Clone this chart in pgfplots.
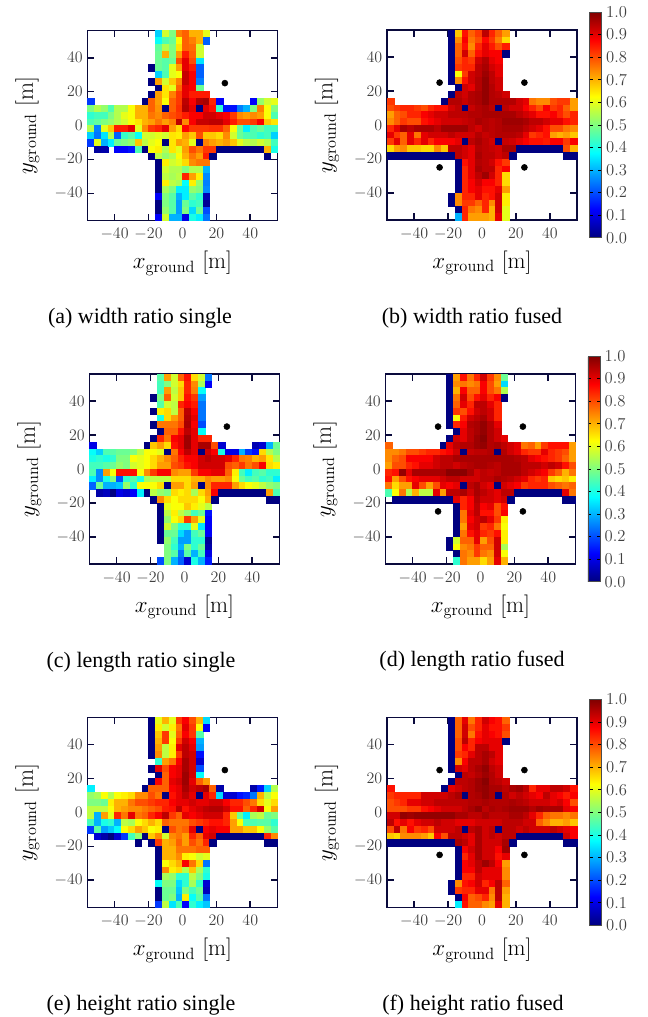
\documentclass[border=0pt]{standalone}
\usepackage{pgfplots}
\pgfplotsset{compat=1.18}
\usepackage{pgfplotstable}
\usepackage{fontspec}
\newfontfamily\capfont{Liberation Serif}
\definecolor{framec}{RGB}{10,10,60}
\pgfplotstableread[header=false]{
54 nan nan nan nan nan nan nan nan nan nan 33 58 50 75 78 70 70 60 nan nan nan nan nan nan nan nan nan nan
50 nan nan nan nan nan nan nan nan nan nan 38 45 48 62 78 75 70 22 nan nan nan nan nan nan nan nan nan nan
46 nan nan nan nan nan nan nan nan nan nan 47 55 50 65 78 77 58 nan nan nan nan nan nan nan nan nan nan nan
42 nan nan nan nan nan nan nan nan nan nan 48 70 50 72 85 78 58 nan nan nan nan nan nan nan nan nan nan nan
38 nan nan nan nan nan nan nan nan nan nan 48 46 48 80 90 80 35 nan nan nan nan nan nan nan nan nan nan nan
34 nan nan nan nan nan nan nan nan nan 0 48 46 60 72 90 85 22 nan nan nan nan nan nan nan nan nan nan nan
30 nan nan nan nan nan nan nan nan nan nan 33 45 60 62 93 88 22 nan nan nan nan nan nan nan nan nan nan nan
26 nan nan nan nan nan nan nan nan nan 0 72 58 68 75 93 88 25 nan nan nan nan nan nan nan nan nan nan nan
22 nan nan nan nan nan nan nan nan nan nan 0 65 60 78 90 88 48 nan nan nan nan nan nan nan nan nan nan nan
18 nan nan nan nan nan nan nan nan nan 0 72 65 75 82 90 85 85 85 nan nan nan nan nan nan nan nan nan nan
14 18 nan nan nan nan nan nan nan 0 78 72 62 78 82 94 88 95 96 84 12 nan nan nan nan 12 52 58 60
10 50 55 52 45 55 55 62 70 70 78 73 0 78 83 95 90 0 90 86 42 14 14 25 30 50 75 62 50
6 42 44 44 50 55 60 62 70 70 76 74 78 80 82 85 88 88 92 92 90 88 82 74 72 74 72 62 45
2 45 47 50 52 55 58 62 65 70 72 76 72 75 94 74 88 93 93 94 94 90 85 80 80 82 88 68 65
-2 55 25 60 68 85 85 90 60 74 82 84 90 72 66 87 82 82 82 83 83 78 62 48 36 45 48 44 44
-6 33 24 35 55 22 43 46 38 58 58 60 58 65 64 72 68 80 68 68 66 74 58 48 45 45 42 44 33
-10 18 60 30 36 48 50 52 68 56 60 62 0 65 72 70 60 0 75 72 70 72 68 60 56 55 58 55 44
-14 nan 3 4 nan 12 12 14 45 0 62 64 55 65 60 72 80 76 82 82 0 0 0 0 0 0 0 70 40
-18 nan nan nan nan nan nan nan nan nan 0 56 52 55 62 70 76 72 85 0 nan nan nan nan nan nan nan 0 nan
-22 nan nan nan nan nan nan nan nan nan nan 0 64 58 60 66 74 76 76 nan nan nan nan nan nan nan nan nan nan
-26 nan nan nan nan nan nan nan nan nan nan 0 58 55 55 50 55 55 30 nan nan nan nan nan nan nan nan nan nan
-30 nan nan nan nan nan nan nan nan nan nan 0 56 54 56 84 72 64 26 nan nan nan nan nan nan nan nan nan nan
-34 nan nan nan nan nan nan nan nan nan nan 0 64 56 54 38 64 52 25 nan nan nan nan nan nan nan nan nan nan
-38 nan nan nan nan nan nan nan nan nan nan 0 54 50 36 36 52 50 26 nan nan nan nan nan nan nan nan nan nan
-42 nan nan nan nan nan nan nan nan nan nan 12 50 46 30 36 46 42 5 nan nan nan nan nan nan nan nan nan nan
-46 nan nan nan nan nan nan nan nan nan nan 0 50 46 28 48 42 44 2 nan nan nan nan nan nan nan nan nan nan
-50 nan nan nan nan nan nan nan nan nan nan 0 52 46 28 50 34 48 20 nan nan nan nan nan nan nan nan nan nan
-54 nan nan nan nan nan nan nan nan nan nan 12 58 30 30 10 40 36 24 nan nan nan nan nan nan nan nan nan nan
}\tabA
\pgfplotstableread[header=false]{
54 nan nan nan nan nan nan nan nan nan 0 68 86 78 82 94 84 78 72 nan nan nan nan nan nan nan nan nan nan
50 nan nan nan nan nan nan nan nan nan 0 74 88 76 80 87 82 75 66 nan nan nan nan nan nan nan nan nan nan
46 nan nan nan nan nan nan nan nan nan 0 78 86 74 84 90 85 80 85 nan nan nan nan nan nan nan nan nan nan
42 nan nan nan nan nan nan nan nan nan 0 78 92 78 86 90 88 88 0 nan nan nan nan nan nan nan nan nan nan
38 nan nan nan nan nan nan nan nan nan 0 80 84 82 92 95 90 88 nan nan nan nan nan nan nan nan nan nan nan
34 nan nan nan nan nan nan nan nan nan 0 82 84 84 94 96 92 90 nan nan nan nan nan nan nan nan nan nan nan
30 nan nan nan nan nan nan nan nan nan 0 62 82 92 94 97 94 90 nan nan nan nan nan nan nan nan nan nan nan
26 nan nan nan nan nan nan nan nan nan 0 74 86 92 95 98 94 92 nan nan nan nan nan nan nan nan nan nan nan
22 nan nan nan nan nan nan nan nan nan nan 0 92 90 95 98 95 92 nan nan nan nan nan nan nan nan nan nan nan
18 nan nan nan nan nan nan nan nan nan 0 94 92 95 96 98 95 94 92 nan nan nan nan nan nan nan nan nan nan
14 82 nan nan nan nan nan nan nan 0 95 95 93 95 96 98 95 95 95 95 92 90 76 74 74 80 82 82 72
10 80 82 84 84 82 80 84 86 86 92 94 0 93 95 96 94 0 94 92 92 88 84 80 88 82 84 78 72
6 72 78 80 84 84 88 90 92 92 94 94 94 95 95 96 96 96 96 96 94 92 90 86 86 88 84 80 84
2 74 78 82 80 80 86 88 90 92 92 92 93 94 96 95 94 95 97 97 97 96 94 94 92 90 90 86 84
-2 84 90 96 94 96 96 96 94 97 97 97 97 94 92 95 94 95 96 96 96 94 92 90 86 80 80 76 74
-6 90 82 78 90 76 90 92 92 92 94 92 92 92 95 93 94 95 95 95 94 90 82 84 86 72 70 72 68
-10 82 90 78 90 84 90 84 88 88 88 90 0 94 96 94 92 0 93 92 90 88 86 86 85 88 88 82 88
-14 66 72 74 68 68 66 66 74 68 94 94 92 90 95 94 93 92 96 96 0 0 0 0 0 0 0 80 70
-18 0 0 0 0 0 0 0 0 0 0 94 92 90 96 94 94 92 94 0 nan nan nan nan nan nan nan 0 0
-22 nan nan nan nan nan nan nan nan nan nan 0 86 90 95 94 92 86 82 nan nan nan nan nan nan nan nan nan nan
-26 nan nan nan nan nan nan nan nan nan nan 0 84 90 96 94 94 84 88 nan nan nan nan nan nan nan nan nan nan
-30 nan nan nan nan nan nan nan nan nan nan 0 84 90 94 97 92 84 66 nan nan nan nan nan nan nan nan nan nan
-34 nan nan nan nan nan nan nan nan nan nan 0 84 88 92 88 88 84 66 nan nan nan nan nan nan nan nan nan nan
-38 nan nan nan nan nan nan nan nan nan nan 0 84 88 90 86 86 90 72 nan nan nan nan nan nan nan nan nan nan
-42 nan nan nan nan nan nan nan nan nan 0 74 84 84 90 84 86 92 64 nan nan nan nan nan nan nan nan nan nan
-46 nan nan nan nan nan nan nan nan nan 0 74 82 82 78 84 74 92 64 nan nan nan nan nan nan nan nan nan nan
-50 nan nan nan nan nan nan nan nan nan nan 0 84 76 74 84 70 92 60 nan nan nan nan nan nan nan nan nan nan
-54 nan nan nan nan nan nan nan nan nan nan 30 84 72 72 72 70 90 60 nan nan nan nan nan nan nan nan nan nan
}\tabB
\pgfplotstableread[header=false]{
54 nan nan nan nan nan nan nan nan nan nan 46 72 58 78 86 66 58 24 nan nan nan nan nan nan nan nan nan nan
50 nan nan nan nan nan nan nan nan nan nan 44 50 58 66 84 74 54 12 nan nan nan nan nan nan nan nan nan nan
46 nan nan nan nan nan nan nan nan nan nan 44 72 56 68 84 75 38 nan nan nan nan nan nan nan nan nan nan nan
42 nan nan nan nan nan nan nan nan nan 0 50 78 58 68 86 82 28 nan nan nan nan nan nan nan nan nan nan nan
38 nan nan nan nan nan nan nan nan nan nan 46 58 56 84 88 85 24 nan nan nan nan nan nan nan nan nan nan nan
34 nan nan nan nan nan nan nan nan nan 0 64 66 56 78 94 88 24 nan nan nan nan nan nan nan nan nan nan nan
30 nan nan nan nan nan nan nan nan nan nan 40 66 72 78 95 90 24 nan nan nan nan nan nan nan nan nan nan nan
26 nan nan nan nan nan nan nan nan nan 0 76 76 76 80 96 88 20 nan nan nan nan nan nan nan nan nan nan nan
22 nan nan nan nan nan nan nan nan nan nan 0 78 78 86 94 90 38 nan nan nan nan nan nan nan nan nan nan nan
18 nan nan nan nan nan nan nan nan nan 0 84 76 88 90 97 90 84 84 nan nan nan nan nan nan nan nan nan nan
14 10 nan nan nan nan nan nan nan 0 68 72 66 86 90 97 90 96 96 80 8 nan nan nan nan 5 8 30 48
10 38 33 45 46 48 48 50 56 62 62 60 0 76 88 94 90 0 92 88 40 10 10 30 18 14 66 55 50
6 40 42 40 42 50 50 62 60 62 66 70 74 78 84 88 88 92 94 92 92 90 84 76 75 70 72 65 55
2 44 44 46 48 52 50 58 60 62 66 72 72 80 82 86 88 92 92 92 92 80 78 82 76 80 88 66 64
-2 45 26 72 62 86 86 86 62 74 82 88 88 74 72 72 82 88 88 90 90 78 64 44 36 44 46 42 42
-6 36 26 40 50 20 42 46 40 54 56 56 56 66 66 66 70 70 74 72 72 74 62 48 44 46 42 44 36
-10 22 48 30 30 32 52 42 62 62 62 66 0 72 72 66 72 0 74 84 84 84 72 66 62 60 56 52 50
-14 nan 4 6 0 10 8 12 36 0 56 52 50 66 64 66 54 66 72 88 0 0 0 0 0 0 0 72 45
-18 nan nan nan nan nan nan nan nan nan 0 74 66 62 66 66 66 62 70 0 nan nan nan nan nan nan nan 0 0
-22 nan nan nan nan nan nan nan nan nan nan 0 60 62 62 68 64 60 56 nan nan nan nan nan nan nan nan nan nan
-26 nan nan nan nan nan nan nan nan nan nan 0 56 64 56 52 44 48 14 nan nan nan nan nan nan nan nan nan nan
-30 nan nan nan nan nan nan nan nan nan nan 0 52 62 66 82 72 60 12 nan nan nan nan nan nan nan nan nan nan
-34 nan nan nan nan nan nan nan nan nan nan 0 58 50 42 42 60 35 12 nan nan nan nan nan nan nan nan nan nan
-38 nan nan nan nan nan nan nan nan nan nan 0 48 48 34 28 44 48 12 nan nan nan nan nan nan nan nan nan nan
-42 nan nan nan nan nan nan nan nan nan nan 0 52 44 28 28 42 42 2 nan nan nan nan nan nan nan nan nan nan
-46 nan nan nan nan nan nan nan nan nan nan nan 50 42 30 50 42 48 4 nan nan nan nan nan nan nan nan nan nan
-50 nan nan nan nan nan nan nan nan nan nan nan 50 46 24 46 30 44 10 nan nan nan nan nan nan nan nan nan nan
-54 nan nan nan nan nan nan nan nan nan nan 20 50 30 22 8 40 30 15 nan nan nan nan nan nan nan nan nan nan
}\tabC
\pgfplotstableread[header=false]{
54 nan nan nan nan nan nan nan nan nan 0 72 86 76 84 92 82 74 48 nan nan nan nan nan nan nan nan nan nan
50 nan nan nan nan nan nan nan nan nan 0 74 76 74 76 88 80 72 34 nan nan nan nan nan nan nan nan nan nan
46 nan nan nan nan nan nan nan nan nan 0 70 88 78 78 88 80 76 55 nan nan nan nan nan nan nan nan nan nan
42 nan nan nan nan nan nan nan nan nan 0 76 92 80 86 90 84 88 0 nan nan nan nan nan nan nan nan nan nan
38 nan nan nan nan nan nan nan nan nan 0 78 90 84 94 94 90 84 nan nan nan nan nan nan nan nan nan nan nan
34 nan nan nan nan nan nan nan nan nan 0 82 80 86 92 94 92 84 nan nan nan nan nan nan nan nan nan nan nan
30 nan nan nan nan nan nan nan nan nan 0 62 85 92 94 96 92 84 nan nan nan nan nan nan nan nan nan nan nan
26 nan nan nan nan nan nan nan nan nan 0 84 88 95 96 98 95 90 nan nan nan nan nan nan nan nan nan nan nan
22 nan nan nan nan nan nan nan nan nan nan 0 90 94 96 98 95 92 nan nan nan nan nan nan nan nan nan nan nan
18 nan nan nan nan nan nan nan nan nan 0 92 90 94 97 99 95 92 90 nan nan nan nan nan nan nan nan nan nan
14 78 nan nan nan nan nan nan nan 0 90 94 95 95 97 98 95 96 94 92 90 76 78 72 82 86 86 86 72
10 74 74 76 80 80 82 84 84 86 88 92 0 93 94 94 95 0 95 92 90 84 82 82 90 84 82 80 72
6 74 78 80 88 88 88 88 92 94 94 96 96 96 96 96 96 96 96 96 95 94 90 88 86 84 82 78 72
2 72 80 80 84 86 90 90 92 94 94 92 94 95 96 96 95 94 96 96 96 94 94 94 92 94 92 86 80
-2 84 86 98 90 96 96 96 96 96 99 99 99 96 92 94 93 94 96 96 96 94 92 90 88 82 78 70 76
-6 86 72 80 86 88 90 90 90 92 94 94 92 92 92 94 94 96 95 94 92 90 84 82 84 68 66 68 64
-10 76 66 72 72 90 80 72 80 90 88 90 0 94 96 92 90 0 92 90 88 82 84 84 84 80 78 76 78
-14 45 62 76 55 70 56 56 90 72 94 94 96 92 96 94 92 90 94 94 0 0 0 0 0 0 0 90 76
-18 nan 0 0 0 0 0 0 0 0 0 90 84 88 95 92 92 90 92 0 nan nan nan nan nan nan nan 0 0
-22 nan nan nan nan nan nan nan nan nan nan 0 84 88 94 88 90 80 86 nan nan nan nan nan nan nan nan nan nan
-26 nan nan nan nan nan nan nan nan nan nan 0 76 90 94 86 86 80 88 nan nan nan nan nan nan nan nan nan nan
-30 nan nan nan nan nan nan nan nan nan nan 0 76 88 92 94 90 82 64 nan nan nan nan nan nan nan nan nan nan
-34 nan nan nan nan nan nan nan nan nan nan 0 72 90 92 82 84 76 62 nan nan nan nan nan nan nan nan nan nan
-38 nan nan nan nan nan nan nan nan nan nan 0 76 86 90 84 82 86 64 nan nan nan nan nan nan nan nan nan nan
-42 nan nan nan nan nan nan nan nan nan 0 58 78 78 90 72 80 92 64 nan nan nan nan nan nan nan nan nan nan
-46 nan nan nan nan nan nan nan nan nan 0 62 74 76 82 78 78 92 54 nan nan nan nan nan nan nan nan nan nan
-50 nan nan nan nan nan nan nan nan nan nan 0 76 74 82 76 74 92 62 nan nan nan nan nan nan nan nan nan nan
-54 nan nan nan nan nan nan nan nan nan nan 42 76 72 72 66 72 90 70 nan nan nan nan nan nan nan nan nan nan
}\tabD
\pgfplotstableread[header=false]{
54 nan nan nan nan nan nan nan nan nan 0 60 70 60 82 88 80 70 34 nan nan nan nan nan nan nan nan nan nan
50 nan nan nan nan nan nan nan nan nan 0 64 58 64 76 90 82 62 12 nan nan nan nan nan nan nan nan nan nan
46 nan nan nan nan nan nan nan nan nan 0 68 82 60 78 88 82 46 nan nan nan nan nan nan nan nan nan nan nan
42 nan nan nan nan nan nan nan nan nan 0 70 82 62 82 92 88 30 nan nan nan nan nan nan nan nan nan nan nan
38 nan nan nan nan nan nan nan nan nan 0 72 56 64 90 94 90 28 nan nan nan nan nan nan nan nan nan nan nan
34 nan nan nan nan nan nan nan nan nan 0 74 56 64 82 94 92 14 nan nan nan nan nan nan nan nan nan nan nan
30 nan nan nan nan nan nan nan nan nan nan 42 72 76 88 96 92 8 nan nan nan nan nan nan nan nan nan nan nan
26 nan nan nan nan nan nan nan nan nan 0 90 80 88 90 96 92 20 nan nan nan nan nan nan nan nan nan nan nan
22 nan nan nan nan nan nan nan nan nan nan 0 78 88 90 97 92 38 nan nan nan nan nan nan nan nan nan nan nan
18 nan nan nan nan nan nan nan nan nan 0 88 78 90 92 97 90 78 72 nan nan nan nan nan nan nan nan nan nan
14 36 nan nan nan nan nan nan nan 0 78 78 78 88 90 96 92 94 96 78 4 nan nan nan nan 4 15 33 55
10 52 54 62 55 62 64 66 74 74 80 76 0 86 90 94 90 0 90 84 34 8 8 14 16 24 70 56 62
6 50 50 48 64 70 70 76 80 80 82 84 84 88 90 90 92 90 90 92 92 88 84 84 80 76 66 60 66
2 56 56 56 62 70 72 74 74 76 78 80 85 86 94 86 90 92 94 95 95 92 86 86 78 84 92 62 72
-2 56 30 72 60 84 76 90 76 78 84 88 94 82 78 90 88 90 92 92 92 84 68 48 36 54 56 48 50
-6 44 30 40 42 30 56 54 62 66 70 66 78 76 76 76 80 82 84 86 86 84 72 62 45 45 46 46 42
-10 18 46 28 32 38 62 66 72 68 62 64 0 80 76 78 90 0 88 90 88 88 72 72 68 68 62 52 46
-14 nan 8 4 0 8 18 44 52 0 68 74 58 74 76 72 84 78 90 92 0 0 0 0 0 0 0 84 74
-18 nan nan nan nan nan nan nan 0 nan 0 82 70 72 78 72 80 76 84 0 nan nan nan nan nan nan nan 0 0
-22 nan nan nan nan nan nan nan nan nan nan 0 70 70 76 76 76 78 78 nan nan nan nan nan nan nan nan nan nan
-26 nan nan nan nan nan nan nan nan nan nan 0 70 70 74 64 62 58 60 nan nan nan nan nan nan nan nan nan nan
-30 nan nan nan nan nan nan nan nan nan nan 0 62 66 70 88 76 66 24 nan nan nan nan nan nan nan nan nan nan
-34 nan nan nan nan nan nan nan nan nan nan 0 74 64 66 55 68 54 42 nan nan nan nan nan nan nan nan nan nan
-38 nan nan nan nan nan nan nan nan nan nan 0 54 52 42 42 56 50 40 nan nan nan nan nan nan nan nan nan nan
-42 nan nan nan nan nan nan nan nan nan nan 38 50 50 34 42 54 42 8 nan nan nan nan nan nan nan nan nan nan
-46 nan nan nan nan nan nan nan nan nan nan 0 48 48 32 50 44 48 6 nan nan nan nan nan nan nan nan nan nan
-50 nan nan nan nan nan nan nan nan nan nan 0 48 50 30 64 38 46 24 nan nan nan nan nan nan nan nan nan nan
-54 nan nan nan nan nan nan nan nan nan nan 18 56 35 45 12 42 36 32 nan nan nan nan nan nan nan nan nan nan
}\tabE
\pgfplotstableread[header=false]{
54 nan nan nan nan nan nan nan nan nan 0 78 90 76 84 92 88 86 78 nan nan nan nan nan nan nan nan nan nan
50 nan nan nan nan nan nan nan nan nan 0 78 92 80 84 90 86 86 82 nan nan nan nan nan nan nan nan nan nan
46 nan nan nan nan nan nan nan nan nan 0 78 92 76 86 90 88 86 80 nan nan nan nan nan nan nan nan nan nan
42 nan nan nan nan nan nan nan nan nan 0 80 94 84 88 90 90 90 0 nan nan nan nan nan nan nan nan nan nan
38 nan nan nan nan nan nan nan nan nan 0 80 88 84 94 94 90 90 nan nan nan nan nan nan nan nan nan nan nan
34 nan nan nan nan nan nan nan nan nan 0 82 84 90 94 96 94 90 nan nan nan nan nan nan nan nan nan nan nan
30 nan nan nan nan nan nan nan nan nan 0 74 88 94 94 96 92 90 nan nan nan nan nan nan nan nan nan nan nan
26 nan nan nan nan nan nan nan nan nan 0 92 90 94 96 98 94 92 nan nan nan nan nan nan nan nan nan nan nan
22 nan nan nan nan nan nan nan nan nan nan 0 94 93 95 97 95 92 nan nan nan nan nan nan nan nan nan nan nan
18 nan nan nan nan nan nan nan nan nan 0 94 94 95 97 99 95 94 92 nan nan nan nan nan nan nan nan nan nan
14 86 nan nan nan nan nan nan nan 0 90 92 94 95 97 98 96 96 94 96 97 94 84 90 90 94 94 92 86
10 82 84 84 84 84 92 92 92 92 94 96 0 95 96 98 96 0 95 92 94 92 90 88 94 90 88 85 88
6 80 82 84 90 90 92 92 94 94 94 94 94 95 95 96 95 95 95 96 95 94 92 92 92 90 92 88 80
2 80 80 80 82 82 86 88 90 92 92 92 94 96 98 94 96 95 96 97 97 97 95 97 96 96 96 90 88
-2 92 92 98 97 98 98 98 98 98 98 96 96 94 94 96 94 94 94 96 96 94 90 84 78 76 76 74 76
-6 94 86 90 86 90 92 92 94 92 92 90 90 90 92 92 92 92 94 94 94 92 92 78 74 70 70 72 68
-10 80 94 76 88 82 84 80 92 92 92 94 0 94 96 92 94 0 94 94 92 94 92 92 92 94 92 90 88
-14 68 66 74 74 74 72 68 88 80 94 94 92 90 96 92 94 92 94 94 0 0 0 0 0 0 0 92 88
-18 0 0 0 0 0 0 0 0 0 0 96 94 90 96 92 92 92 96 0 nan nan nan nan nan nan nan 0 0
-22 nan nan nan nan nan nan nan nan nan nan 0 88 92 96 92 92 88 97 nan nan nan nan nan nan nan nan nan nan
-26 nan nan nan nan nan nan nan nan nan nan 0 84 90 96 92 92 86 90 nan nan nan nan nan nan nan nan nan nan
-30 nan nan nan nan nan nan nan nan nan nan 0 88 90 94 97 94 88 72 nan nan nan nan nan nan nan nan nan nan
-34 nan nan nan nan nan nan nan nan nan nan 0 88 88 94 90 90 90 74 nan nan nan nan nan nan nan nan nan nan
-38 nan nan nan nan nan nan nan nan nan nan 0 84 84 92 90 90 90 74 nan nan nan nan nan nan nan nan nan nan
-42 nan nan nan nan nan nan nan nan nan 0 74 86 88 92 84 88 94 78 nan nan nan nan nan nan nan nan nan nan
-46 nan nan nan nan nan nan nan nan nan 0 82 84 84 90 90 76 94 72 nan nan nan nan nan nan nan nan nan nan
-50 nan nan nan nan nan nan nan nan nan nan 0 88 78 80 84 74 94 70 nan nan nan nan nan nan nan nan nan nan
-54 nan nan nan nan nan nan nan nan nan nan 36 86 78 78 74 72 90 70 nan nan nan nan nan nan nan nan nan nan
}\tabF
\newcommand\heat[1]{\pgfplotsinvokeforeach{1,...,28}{\addplot[scatter,only marks,scatter src=explicit,scatter/use mapped color={draw=mapped color,fill=mapped color},mark=square*,mark size=2.5pt,mark options={line width=0.3pt},forget plot] table[x expr={-58+4*##1},y expr={\thisrowno{0}+0.000001*\thisrowno{##1}},meta index=##1]{#1};}}
\pgfplotsset{heatax/.style={
  anchor=north west, scale only axis, width=142.5pt, height=142.5pt,
  xmin=-56,xmax=56,ymin=-56,ymax=56, axis on top,
  colormap/jet, point meta min=0, point meta max=100,
  xtick={-40,-20,0,20,40}, ytick={-40,-20,0,20,40},
  tick align=inside, xtick pos=both, ytick pos=both, xticklabel pos=bottom, yticklabel pos=left,
  major tick length=5.2pt,
  tick style={line width=1.3pt,draw=framec},
  axis line style={line width=1pt,draw=framec},
  tick label style={font=\fontsize{12.5}{14}\selectfont,text=black!75},
  xticklabel style={yshift=-2.5pt},
  xlabel={$x_{\mathrm{ground}}$ [m]}, ylabel={$y_{\mathrm{ground}}$ [m]},
  label style={font=\fontsize{17.5}{19}\selectfont},
  xlabel style={at={(axis description cs:0.5,-0.226)},anchor=center},
  ylabel style={at={(axis description cs:-0.316,0.5)},anchor=center},
},
cb/.style={colorbar, colorbar shift/.style={xshift=8.7pt,yshift=13.5pt}, colorbar style={scale only axis,width=9pt,height=169.3pt,
  ytick={0,10,...,100}, yticklabels={0.0,0.1,0.2,0.3,0.4,0.5,0.6,0.7,0.8,0.9,1.0},
  ytick pos=both, yticklabel pos=right, tick align=inside, major tick length=2.5pt,
  tick style={line width=0.5pt,draw=black}, axis line style={line width=0.6pt,draw=black!70},
  tick label style={font=\fontsize{12.5}{14}\selectfont,text=black!75}}}}
\begin{document}
\begin{tikzpicture}[x=0.75pt,y=0.75pt]
\useasboundingbox (0,0) rectangle (647,-1017);
\begin{axis}[heatax,at={(65.6pt,-22.9pt)}]
\heat{\tabA}
\addplot[only marks,mark=*,mark size=2.25pt,black] coordinates {(25,25)};
\end{axis}
\begin{axis}[heatax,cb,at={(290.25pt,-22.5pt)}]
\heat{\tabB}
\addplot[only marks,mark=*,mark size=2.25pt,black] coordinates {(-25,25)(25,25)(-25,-25)(25,-25)};
\end{axis}
\begin{axis}[heatax,at={(67.1pt,-280.5pt)}]
\heat{\tabC}
\addplot[only marks,mark=*,mark size=2.25pt,black] coordinates {(25,25)};
\end{axis}
\begin{axis}[heatax,cb,at={(289.1pt,-280.5pt)}]
\heat{\tabD}
\addplot[only marks,mark=*,mark size=2.25pt,black] coordinates {(-25,25)(25,25)(-25,-25)(25,-25)};
\end{axis}
\begin{axis}[heatax,at={(65.6pt,-538.1pt)}]
\heat{\tabE}
\addplot[only marks,mark=*,mark size=2.25pt,black] coordinates {(25,25)};
\end{axis}
\begin{axis}[heatax,cb,at={(290.25pt,-538.1pt)}]
\heat{\tabF}
\addplot[only marks,mark=*,mark size=2.25pt,black] coordinates {(-25,25)(25,25)(-25,-25)(25,-25)};
\end{axis}
\begin{scope}[every node/.style={font=\capfont\fontsize{16.5}{19}\selectfont,anchor=center}]
\node at (140,-318) {(a) width ratio single};
\node at (472,-318) {(b) width ratio fused};
\node at (141,-662) {(c) length ratio single};
\node at (472,-661) {(d) length ratio fused};
\node at (141,-1005) {(e) height ratio single};
\node at (473,-1005) {(f) height ratio fused};
\end{scope}
\end{tikzpicture}
\end{document}
